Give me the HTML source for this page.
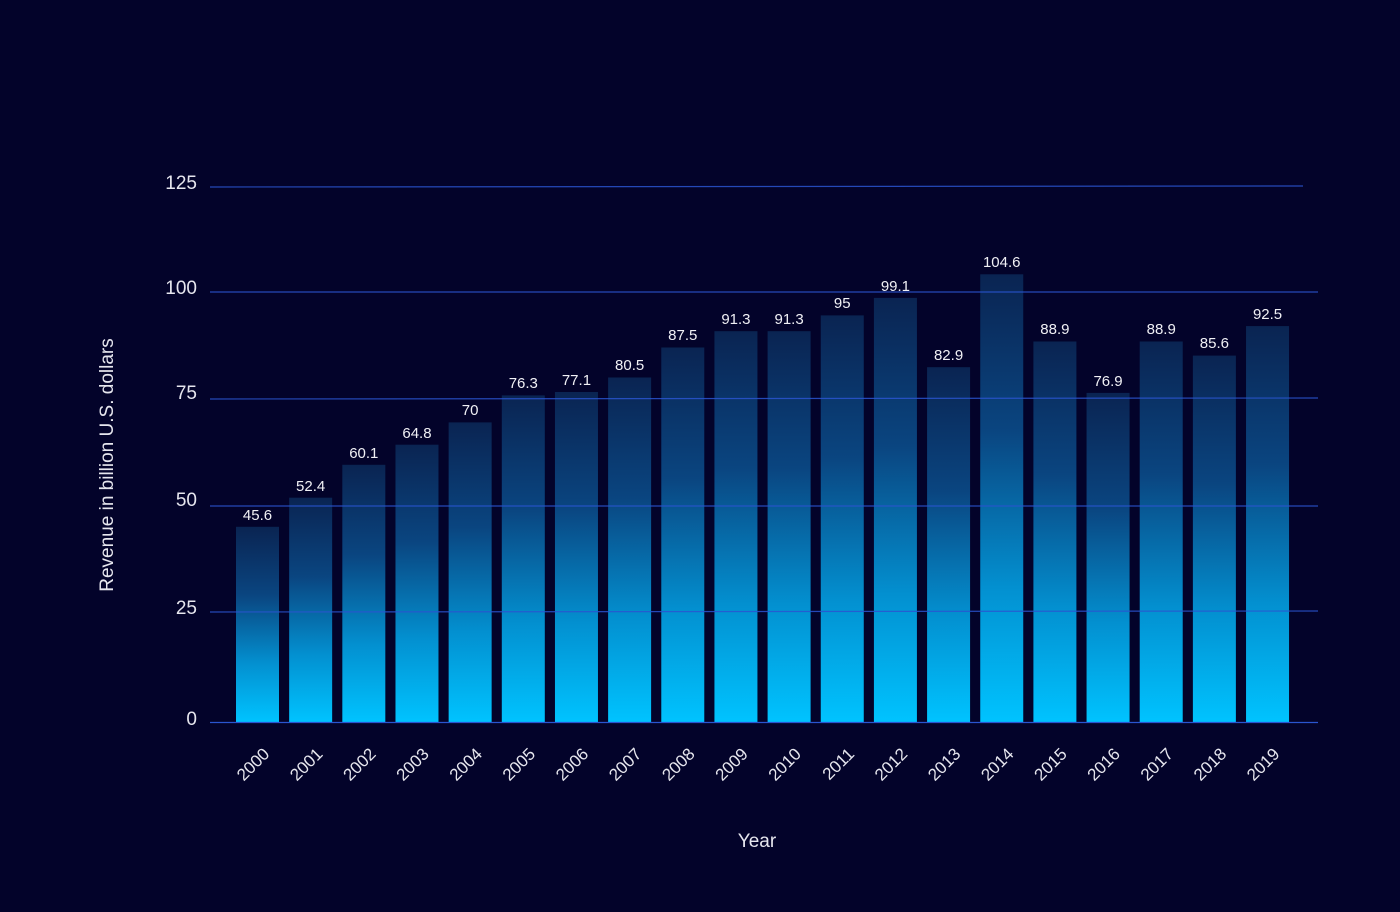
<!DOCTYPE html>
<html><head><meta charset="utf-8"><style>
html,body{margin:0;padding:0;background:#03032a;}
svg{display:block;font-family:"Liberation Sans",sans-serif;}
</style></head><body>
<svg width="1400" height="912" viewBox="0 0 1400 912" xmlns="http://www.w3.org/2000/svg">
<defs>
<linearGradient id="g" x1="0" y1="0" x2="0" y2="1">
<stop offset="0" stop-color="#0a2452"/>
<stop offset="0.35" stop-color="#0a4580"/>
<stop offset="0.7" stop-color="#0390d0"/>
<stop offset="1" stop-color="#00c3ff"/>
</linearGradient>
</defs>
<rect width="1400" height="912" fill="#03032a"/>
<g fill="url(#g)">
<rect x="236" y="526.8" width="43" height="195.2"/>
<rect x="289.16" y="497.7" width="43" height="224.3"/>
<rect x="342.32" y="464.8" width="43" height="257.2"/>
<rect x="395.48" y="444.7" width="43" height="277.3"/>
<rect x="448.64" y="422.4" width="43" height="299.6"/>
<rect x="501.8" y="395.4" width="43" height="326.6"/>
<rect x="554.96" y="392" width="43" height="330"/>
<rect x="608.12" y="377.5" width="43" height="344.5"/>
<rect x="661.28" y="347.5" width="43" height="374.5"/>
<rect x="714.44" y="331.2" width="43" height="390.8"/>
<rect x="767.6" y="331.2" width="43" height="390.8"/>
<rect x="820.76" y="315.4" width="43" height="406.6"/>
<rect x="873.92" y="297.9" width="43" height="424.1"/>
<rect x="927.08" y="367.2" width="43" height="354.8"/>
<rect x="980.24" y="274.3" width="43" height="447.7"/>
<rect x="1033.4" y="341.5" width="43" height="380.5"/>
<rect x="1086.56" y="392.9" width="43" height="329.1"/>
<rect x="1139.72" y="341.5" width="43" height="380.5"/>
<rect x="1192.88" y="355.6" width="43" height="366.4"/>
<rect x="1246.04" y="326.1" width="43" height="395.9"/>
</g>
<g stroke="#2a55d0" stroke-width="1.2" stroke-opacity="0.85">
<line x1="210" y1="187" x2="1303" y2="186"/>
<line x1="210" y1="292" x2="1318" y2="292"/>
<line x1="210" y1="399" x2="1318" y2="398"/>
<line x1="210" y1="506" x2="1318" y2="506"/>
<line x1="210" y1="612" x2="1318" y2="611"/>
</g>
<g fill="#e6e6ee" font-size="19" text-anchor="end">
<text x="197" y="189">125</text>
<text x="197" y="294">100</text>
<text x="197" y="399">75</text>
<text x="197" y="506">50</text>
<text x="197" y="614">25</text>
<text x="197" y="725">0</text>
</g>
<g fill="#f0f0f5" font-size="15" text-anchor="middle">
<text x="257.5" y="520">45.6</text>
<text x="310.66" y="491">52.4</text>
<text x="363.82" y="458">60.1</text>
<text x="416.98" y="438">64.8</text>
<text x="470.14" y="415">70</text>
<text x="523.3" y="388">76.3</text>
<text x="576.46" y="385">77.1</text>
<text x="629.62" y="370">80.5</text>
<text x="682.78" y="340">87.5</text>
<text x="735.94" y="324">91.3</text>
<text x="789.1" y="324">91.3</text>
<text x="842.26" y="308">95</text>
<text x="895.42" y="291">99.1</text>
<text x="948.58" y="360">82.9</text>
<text x="1001.74" y="267">104.6</text>
<text x="1054.9" y="334">88.9</text>
<text x="1108.06" y="386">76.9</text>
<text x="1161.22" y="334">88.9</text>
<text x="1214.38" y="348">85.6</text>
<text x="1267.54" y="319">92.5</text>
</g>
<line x1="210" y1="722.5" x2="1318" y2="722.5" stroke="#2a55d0" stroke-width="1.3"/>
<g fill="#e6e6ee" font-size="17" text-anchor="end">
<text transform="translate(270.5,755) rotate(-45)">2000</text>
<text transform="translate(323.66,755) rotate(-45)">2001</text>
<text transform="translate(376.82,755) rotate(-45)">2002</text>
<text transform="translate(429.98,755) rotate(-45)">2003</text>
<text transform="translate(483.14,755) rotate(-45)">2004</text>
<text transform="translate(536.3,755) rotate(-45)">2005</text>
<text transform="translate(589.46,755) rotate(-45)">2006</text>
<text transform="translate(642.62,755) rotate(-45)">2007</text>
<text transform="translate(695.78,755) rotate(-45)">2008</text>
<text transform="translate(748.94,755) rotate(-45)">2009</text>
<text transform="translate(802.1,755) rotate(-45)">2010</text>
<text transform="translate(855.26,755) rotate(-45)">2011</text>
<text transform="translate(908.42,755) rotate(-45)">2012</text>
<text transform="translate(961.58,755) rotate(-45)">2013</text>
<text transform="translate(1014.74,755) rotate(-45)">2014</text>
<text transform="translate(1067.9,755) rotate(-45)">2015</text>
<text transform="translate(1121.06,755) rotate(-45)">2016</text>
<text transform="translate(1174.22,755) rotate(-45)">2017</text>
<text transform="translate(1227.38,755) rotate(-45)">2018</text>
<text transform="translate(1280.54,755) rotate(-45)">2019</text>
</g>
<text transform="translate(113,465) rotate(-90)" fill="#e6e6ee" font-size="19" text-anchor="middle">Revenue in billion U.S. dollars</text>
<text x="757" y="847" fill="#e6e6ee" font-size="19" text-anchor="middle">Year</text>
</svg>
</body></html>
